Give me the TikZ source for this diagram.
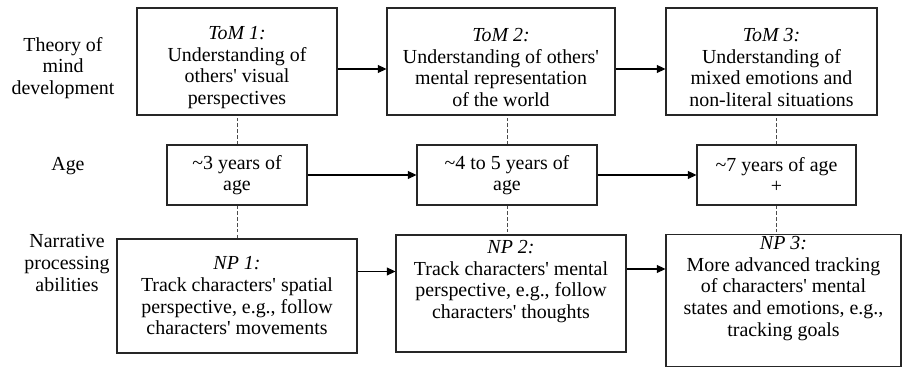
\documentclass[tikz,border=0pt]{standalone}
\usepackage{fontspec}
\setmainfont{Liberation Serif}[Ligatures=TeXOff]
\usetikzlibrary{arrows.meta}
\tikzset{
  stagebox/.style={draw=black!85, line width=0.9pt, align=center, inner sep=2pt},
  rowlabel/.style={align=center},
  link/.style={line width=0.9pt, -{Triangle[length=2.6mm,width=2.4mm]}},
  guide/.style={densely dashed, line width=0.5pt, black!70}
}
\begin{document}
\begin{tikzpicture}[font=\fontsize{17}{18.5}\selectfont]
\useasboundingbox (0,0) rectangle (27.09,11.01);
% row labels
\node[rowlabel] (lbltom) at (1.89,8.97) {Theory of\\mind\\development};
\node[rowlabel] (lblage) at (2.04,6.03) {Age};
\node[rowlabel] (lblnp) at (2.01,3.12) {Narrative\\processing\\abilities};
% theory of mind
\node[stagebox, minimum width=6cm, minimum height=3.21cm] (tom1) at (7.11,9.165)
  {\rule{0pt}{7.6mm}\textit{ToM 1:}\\Understanding of\\others' visual\\perspectives};
\node[stagebox, minimum width=6.84cm, minimum height=3.21cm] (tom2) at (15.03,9.165)
  {\rule{0pt}{7.6mm}\textit{ToM 2:}\\Understanding of others'\\mental representation\\of the world};
\node[stagebox, minimum width=6.33cm, minimum height=3.21cm] (tom3) at (23.145,9.165)
  {\rule{0pt}{7.6mm}\textit{ToM 3:}\\Understanding of\\mixed emotions and\\non-literal situations};
% age
\node[stagebox, minimum width=4.2cm, minimum height=1.8cm] (age1) at (7.11,5.76)
  {\textasciitilde3 years of\\age};
\node[stagebox, minimum width=5.4cm, minimum height=1.8cm] (age2) at (15.21,5.76)
  {\textasciitilde4 to 5 years of\\age};
\node[stagebox, minimum width=4.77cm, minimum height=1.8cm] (age3) at (23.295,5.76)
  {\textasciitilde7 years of age\\+};
% narrative processing
\node[stagebox, minimum width=7.2cm, minimum height=3.42cm] (np1) at (7.11,2.13)
  {\textit{NP 1:}\\Track characters' spatial\\perspective, e.g., follow\\characters' movements};
\node[stagebox, minimum width=6.9cm, minimum height=3.51cm] (np2) at (15.33,2.205)
  {\textit{NP 2:}\\Track characters' mental\\perspective, e.g., follow\\characters' thoughts\\\strut};
\node[stagebox, minimum width=7.05cm, minimum height=3.93cm] (np3) at (23.505,1.995)
  {\textit{NP 3:}\\More advanced tracking\\of characters' mental\\states and emotions, e.g.,\\tracking goals\\\strut};
% arrows
\draw[link] ([yshift=-2.25mm]tom1.east) -- ([yshift=-2.25mm]tom1.east -| tom2.west);
\draw[link] ([yshift=-2.25mm]tom2.east) -- ([yshift=-2.25mm]tom2.east -| tom3.west);
\draw[link] (age1) -- (age2);
\draw[link] (age2) -- (age3);
\draw[link] ([yshift=7.35mm]np1.east) -- ([yshift=7.35mm]np1.east -| np2.west);
\draw[link] ([yshift=7.35mm]np2.east) -- ([yshift=7.35mm]np2.east -| np3.west);
% dashed guides
\draw[guide] (age1.north) -- (age1.north |- tom1.south);
\draw[guide] (age2.north) -- (age2.north |- tom2.south);
\draw[guide] (age3.north) -- (age3.north |- tom3.south);
\draw[guide] (age1.south) -- (age1.south |- np1.north);
\draw[guide] (age2.south) -- (age2.south |- np2.north);
\draw[guide] (age3.south) -- (age3.south |- np3.north);
\end{tikzpicture}
\end{document}
